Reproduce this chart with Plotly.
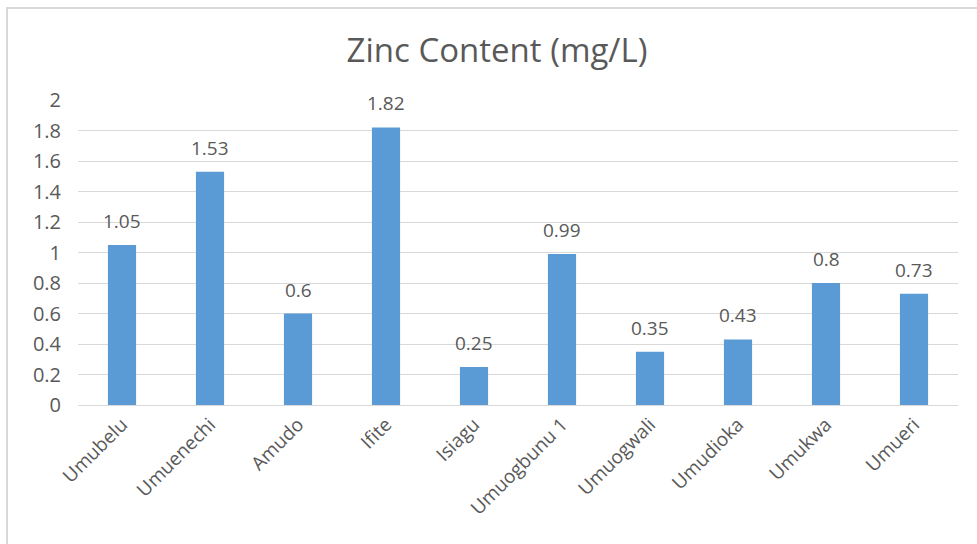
import plotly.graph_objects as go

sites = ["Umubelu", "Umuenechi", "Amudo", "Ifite", "Isiagu",
         "Umuogbunu 1", "Umuogwali", "Umudioka", "Umukwa", "Umueri"]
zinc = [1.05, 1.53, 0.6, 1.82, 0.25, 0.99, 0.35, 0.43, 0.8, 0.73]
y_ticks = [0, 0.2, 0.4, 0.6, 0.8, 1, 1.2, 1.4, 1.6, 1.8, 2]

BAR = "#5B9BD5"
TXT = "#595959"
GRID = "#D9D9D9"
FONT = "Open Sans"

W, H = 977, 544
L, R, T, B = 78, 19, 100, 139
pw, ph = W - L - R, H - T - B


def px_x(x):
    return (x - L) / pw


def px_y(y):
    return (H - B - y) / ph


fig = go.Figure()
fig.add_trace(go.Bar(
    x=sites, y=zinc,
    marker=dict(color=BAR, line=dict(width=0)),
    width=0.32,
    showlegend=False,
    hoverinfo="x+y",
))

# value labels above the bars
for s, v in zip(sites, zinc):
    fig.add_annotation(x=s, y=v, text=f"{v:g}", showarrow=False,
                       yanchor="bottom", yshift=9,
                       font=dict(size=19, color=TXT, family=FONT))

fig.update_layout(
    width=W, height=H,
    margin=dict(l=L, r=R, t=T, b=B),
    paper_bgcolor="white", plot_bgcolor="white",
    font=dict(family=FONT, color=TXT),
    title=dict(text="Zinc Content (mg/L)", x=px_x(497), xref="paper",
               xanchor="center", y=1 - 50 / H, yanchor="middle",
               font=dict(size=33, color=TXT, family=FONT)),
    xaxis=dict(tickangle=-45, tickfont=dict(size=19, color=TXT),
               showgrid=False, showline=True, linecolor=GRID, linewidth=1,
               ticks="", automargin=False),
    yaxis=dict(range=[0, 2], tickvals=y_ticks, showgrid=True, gridcolor=GRID,
               gridwidth=1, zeroline=False, showline=False, automargin=False,
               tickfont=dict(size=20, color=TXT), ticklabelstandoff=16),
    shapes=[dict(type="rect", xref="paper", yref="paper",
                 x0=px_x(7), x1=px_x(990), y0=px_y(560), y1=px_y(8),
                 line=dict(color=GRID, width=2), layer="below")],
)

fig.write_html("out.html", config={"displayModeBar": False},
               post_script="document.body.style.margin='0';")
